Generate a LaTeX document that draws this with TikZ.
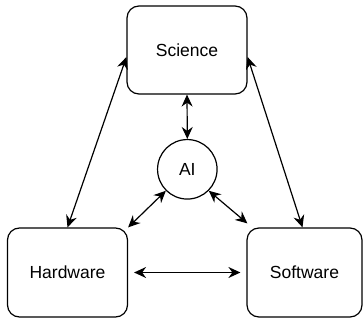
\documentclass[tikz,border=0pt]{standalone}
\usepackage{fontspec}
\setmainfont{Liberation Sans}
\usetikzlibrary{arrows.meta}
\begin{document}
\begin{tikzpicture}[x=1pt,y=-1pt,
  box/.style={draw,line width=1.2pt,rounded corners=12pt,inner sep=0pt,font=\fontsize{17.5}{20}\selectfont},
  circ/.style={draw,circle,line width=1.2pt,inner sep=0pt,minimum size=59.5pt,font=\fontsize{17.5}{20}\selectfont},
  link/.style={line width=1.2pt,{Stealth[length=12pt,width=11pt,inset=4pt]}-{Stealth[length=12pt,width=11pt,inset=4pt]}}]
\useasboundingbox (0,0) rectangle (363,320);
\node[box,minimum width=120pt,minimum height=88pt] (sci) at (187,50) {Science};
\node[box,minimum width=120pt,minimum height=89pt] (hw) at (67.5,272.5) {Hardware};
\node[box,minimum width=115pt,minimum height=89pt] (sw) at (304.5,272.5) {Software};
\node[circ] (ai) at (187.3,169.3) {AI};
\draw[link] (sci.south) -- (ai.north);
\draw[link] (hw.north) -- ([yshift=-7pt]sci.west);
\draw[link] ([yshift=-7pt]sci.east) -- ([xshift=-2pt]sw.north);
\draw[link] ([xshift=6pt]hw.east) -- ([xshift=-6pt]sw.west);
\draw[link] (ai.south west) -- (hw.north east);
\draw[link] (ai.south east) -- ([shift={(1pt,4pt)}]sw.north west);
\end{tikzpicture}
\end{document}
